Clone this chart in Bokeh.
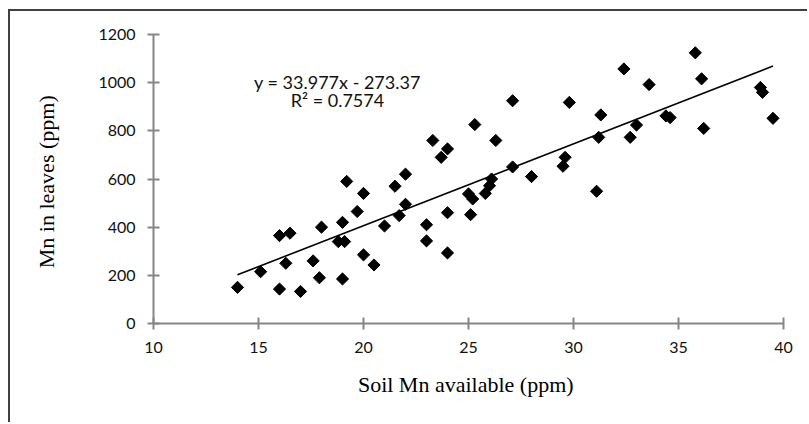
import math
from bokeh.plotting import figure
from bokeh.models import Label, FixedTicker, ColumnDataSource
from bokeh.embed import file_html
from bokeh.resources import INLINE

# ---- data ----
soil_mn = [14.0, 15.1, 16.0, 16.0, 16.5, 16.3, 17.0, 17.6, 18.0, 17.9,
           19.2, 20.0, 19.7, 19.0, 18.8, 19.1, 19.0, 20.0, 20.5, 21.0,
           21.5, 22.0, 22.0, 21.7, 23.0, 23.0, 24.0, 24.0, 25.1, 25.0,
           25.2, 25.8, 26.0, 26.1, 27.1, 28.0, 29.5, 23.3, 23.7, 24.0,
           25.3, 26.3, 27.1, 29.6, 29.8, 31.3, 31.2, 32.4, 32.7, 33.0,
           33.6, 34.4, 34.6, 35.8, 36.1, 36.2, 38.9, 39.0, 39.5, 31.1]
leaf_mn = [150, 215, 143, 365, 375, 250, 133, 260, 400, 190,
           590, 540, 465, 420, 340, 340, 185, 285, 243, 405,
           570, 620, 495, 448, 410, 343, 460, 293, 452, 538,
           517, 540, 572, 600, 650, 610, 653, 760, 690, 725,
           826, 760, 925, 690, 918, 866, 773, 1057, 773, 824,
           992, 862, 855, 1124, 1016, 810, 980, 960, 852, 549]

slope = 33.977
intercept = -273.37
r_squared = 0.7574

x_ticks = [10, 15, 20, 25, 30, 35, 40]
y_ticks = [0, 200, 400, 600, 800, 1000, 1200]

x_title = "Soil Mn available  (ppm)"
y_title = "Mn in leaves  (ppm)"

# ---- figure ----
p = figure(width=799, height=413, output_backend="svg", toolbar_location=None,
           x_range=(10, 40), y_range=(0, 1200),
           min_border_left=143, min_border_right=26,
           min_border_top=23, min_border_bottom=101)
p.styles = {"margin-left": "8px", "margin-top": "9px",
            "border-left": "2px solid #404040", "border-top": "2px solid #404040"}
p.outline_line_color = None
p.xgrid.grid_line_color = None
p.ygrid.grid_line_color = None
p.background_fill_color = "white"
p.border_fill_color = "white"

for ax, ticks in ((p.xaxis[0], x_ticks), (p.yaxis[0], y_ticks)):
    ax.ticker = FixedTicker(ticks=ticks)
    ax.axis_line_color = "#868686"
    ax.axis_line_width = 2
    ax.major_tick_line_color = "#868686"
    ax.major_tick_line_width = 2
    ax.major_tick_in = 6
    ax.major_tick_out = 6
    ax.minor_tick_line_color = None
    ax.major_label_text_font = "Lato"
    ax.major_label_text_font_size = "16px"
    ax.major_label_text_color = "#111111"
    ax.major_label_standoff = 12
    ax.axis_label_text_font = "Liberation Serif"
    ax.axis_label_text_font_size = "22px"
    ax.axis_label_text_font_style = "normal"
    ax.axis_label_text_color = "black"

p.xaxis[0].axis_label = x_title
p.yaxis[0].axis_label = y_title
p.xaxis[0].axis_label_standoff = 16
p.yaxis[0].axis_label_standoff = 36

# trend line from data extent
x_fit = [min(soil_mn), max(soil_mn)]
y_fit = [slope * v + intercept for v in x_fit]
p.line(x_fit, y_fit, line_color="black", line_width=1.6)

src = ColumnDataSource(dict(x=soil_mn, y=leaf_mn))
p.scatter("x", "y", source=src, marker="square", size=8.6, angle=math.pi / 4,
          fill_color="black", line_color="black")

eq1 = "y = %.3fx - %.2f" % (slope, -intercept)
eq2 = "R\u00b2 = %.4f" % r_squared
for txt, yy in ((eq1, 1002), (eq2, 926)):
    p.add_layout(Label(x=18.76, y=yy, text=txt, text_font="Lato",
                       text_font_size="18px", text_align="center",
                       text_baseline="middle", text_color="#111111"))

open("out.html", "w").write(file_html(p, INLINE))
